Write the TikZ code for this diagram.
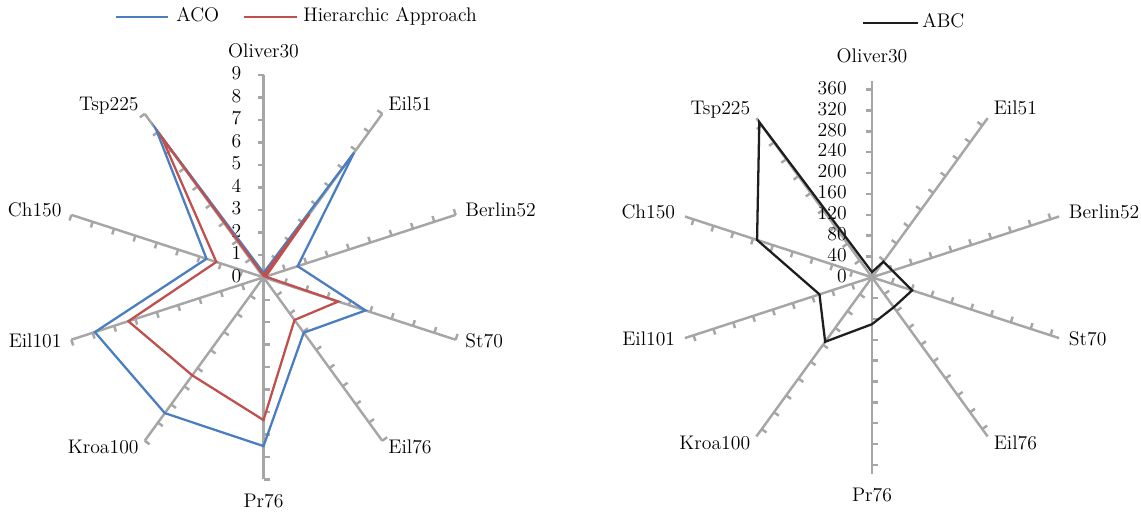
\documentclass[tikz,border=0pt]{standalone}
\usepackage{xcolor}
\usepackage{tikz}

\definecolor{acoblue}{RGB}{74,126,193}
\definecolor{hierred}{RGB}{192,80,77}
\definecolor{axisgray}{RGB}{166,166,166}
\definecolor{abcblack}{RGB}{30,30,30}

\begin{document}
\begin{tikzpicture}[x=0.02cm,y=0.02cm,
    axisline/.style={axisgray,line width=1.4pt},
    series/.style={line width=1.3pt,line join=miter},
    lbl/.style={font=\fontsize{11.2}{13}\selectfont,inner sep=0pt,text height=1.5ex,text depth=0.25ex}]
    \useasboundingbox (0,0) rectangle (1141,514);

    % Legend left
    \node[lbl,anchor=west] (aco) at (176,497) {ACO};
    \node[lbl,anchor=west] (hier) at (303,497) {Hierarchic Approach};
    \draw[series,acoblue] ([xshift=-0.16cm]aco.west) -- ++(-52,0);
    \draw[series,hierred] ([xshift=-0.12cm]hier.west) -- ++(-53,0);

    % Legend right
    \node[lbl,anchor=west] (abc) at (922,491) {ABC};
    \draw[series,abcblack] ([xshift=-0.09cm]abc.west) -- ++(-55,0);

    % Left chart: axes, ticks, labels
    \begin{scope}[shift={(263.5,236.7)}]
        \foreach \a in {90,54,18,-18,-54,-90,-126,-162,162,126} {
            \draw[axisline] (0,0) -- (\a:202);
            \foreach \k in {1,...,9}
                \draw[axisline] (\a:{\k*22.45}) -- ++({\a+90}:6);
        }
        \foreach \a/\t/\anc/\d in {90/Oliver30/south/16,54/Eil51/west/10,18/Berlin52/west/10,-18/St70/west/10,-54/Eil76/west/10,-90/Pr76/north/16,-126/Kroa100/east/10,-162/Eil101/east/10,162/Ch150/east/10,126/Tsp225/east/10}
            \node[lbl,anchor=\anc] (L\t) at (\a:{202+\d}) {\t};
        \foreach \k in {0,...,9}
            \node[lbl,anchor=east] (Lval\k) at (-22,{\k*22.45}) {\k};

        % Data
        \begin{scope}[x=0.449cm,y=0.449cm]
            \draw[series,acoblue] (90:0.2) -- (54:6.86) -- (18:1.6) -- (-18:4.78) -- (-54:3.05) -- (-90:7.52) -- (-126:7.48) -- (-162:7.9) -- (162:2.67) -- (126:8.14) -- cycle;
            \draw[series,hierred] (90:0.08) -- (54:3.47) -- (18:0.1) -- (-18:3.5) -- (-54:2.35) -- (-90:6.36) -- (-126:5.4) -- (-162:6.33) -- (162:2.21) -- (126:7.73) -- cycle;
        \end{scope}
    \end{scope}

    % Right chart: axes, ticks, labels
    \begin{scope}[shift={(872,236.7)}]
        \foreach \a in {90,54,18,-18,-54,-90,-126,-162,162,126} {
            \draw[axisline] (0,0) -- (\a:196.7);
            \foreach \k in {1,...,9}
                \draw[axisline] (\a:{\k*20.85}) -- ++({\a+90}:6);
        }
        \foreach \a/\t/\anc/\d in {90/Oliver30/south/16,54/Eil51/west/10,18/Berlin52/west/10,-18/St70/west/10,-54/Eil76/west/10,-90/Pr76/north/16,-126/Kroa100/east/10,-162/Eil101/east/10,162/Ch150/east/10,126/Tsp225/east/10}
            \node[lbl,anchor=\anc] (R\t) at (\a:{196.7+\d}) {\t};
        \foreach \k/\v in {0/0,1/40,2/80,3/120,4/160,5/200,6/240,7/280,8/320,9/360}
            \node[lbl,anchor=east] (Rval\k) at (-25,{\k*20.85}) {\v};

        % Data
        \begin{scope}[x=0.010425cm,y=0.010425cm]
            \draw[series,abcblack] (90:10) -- (54:37) -- (18:41) -- (-18:81) -- (-54:71) -- (-90:90) -- (-126:153) -- (-162:106) -- (162:232) -- (126:368) -- cycle;
        \end{scope}
    \end{scope}
\end{tikzpicture}
\end{document}
